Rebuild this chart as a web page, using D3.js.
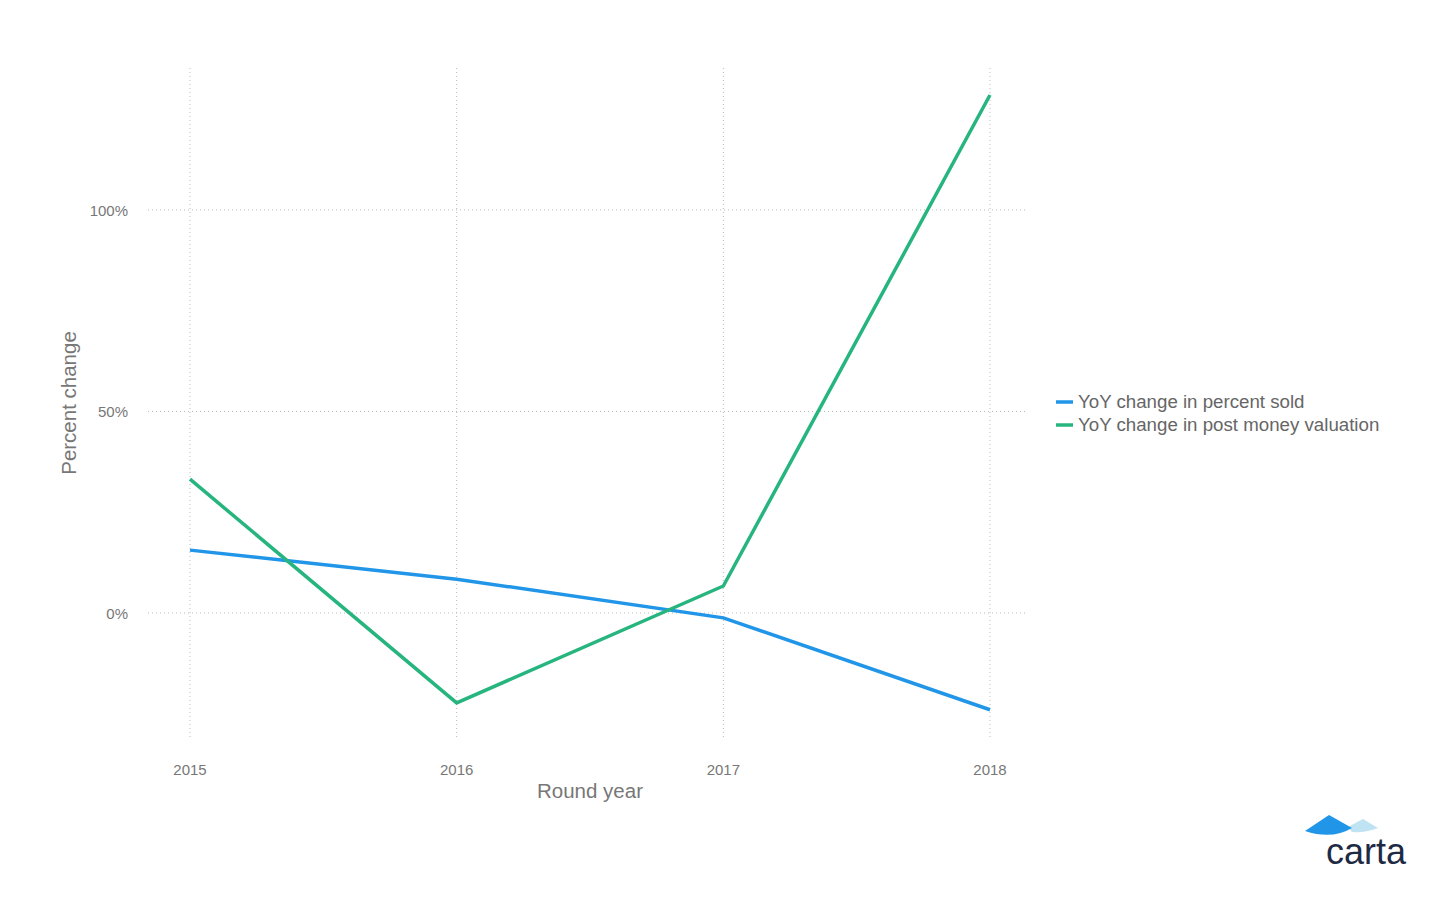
<!DOCTYPE html>
<html>
<head>
<meta charset="utf-8">
<script src="https://d3js.org/d3.v7.min.js"></script>
<style>body{margin:0;background:#fff;font-family:Arial,"Liberation Sans",sans-serif}</style>
</head>
<body>
<svg id="chart" width="1450" height="900"></svg>
<script>
var years = [2015, 2016, 2017, 2018];
var percentSold = [15.6, 8.4, -1.2, -24];
var postMoney = [33.2, -22.3, 6.7, 128.5];
var yTicks = [0, 50, 100];
var seriesNames = ["YoY change in percent sold", "YoY change in post money valuation"];
var colors = ["#2196e8", "#27b57f"];

var svg = d3.select("#chart");
var x = d3.scaleLinear().domain([2015, 2018]).range([190, 990]);
var y = d3.scaleLinear().domain([-31.5, 135.2]).range([740, 68]);

// grid
svg.selectAll(".vg").data(years).enter().append("line")
  .attr("x1", d => x(d)).attr("x2", d => x(d)).attr("y1", 68).attr("y2", 740)
  .attr("stroke", "#bbb").attr("stroke-dasharray", "1,3");
svg.selectAll(".hg").data(yTicks).enter().append("line")
  .attr("x1", 148).attr("x2", 1027).attr("y1", d => y(d)).attr("y2", d => y(d))
  .attr("stroke", "#bbb").attr("stroke-dasharray", "1,3");

// tick labels
svg.selectAll(".yt").data(yTicks).enter().append("text")
  .attr("x", 128).attr("y", d => y(d) + 6).attr("text-anchor", "end")
  .attr("font-size", 15).attr("fill", "#777").text(d => d + "%");
svg.selectAll(".xt").data(years).enter().append("text")
  .attr("x", d => x(d)).attr("y", 775).attr("text-anchor", "middle")
  .attr("font-size", 15).attr("fill", "#777").text(d => d);

svg.append("text").attr("x", 590).attr("y", 798).attr("text-anchor", "middle")
  .attr("font-size", 20.5).attr("fill", "#777").text("Round year");
svg.append("text").attr("transform", "translate(76,403) rotate(-90)").attr("text-anchor", "middle")
  .attr("font-size", 20.5).attr("fill", "#777").text("Percent change");

// lines
var line = d3.line().x((d, i) => x(years[i])).y(d => y(d));
[percentSold, postMoney].forEach(function(s, i) {
  svg.append("path").datum(s).attr("d", line).attr("fill", "none")
    .attr("stroke", colors[i]).attr("stroke-width", 3.5);
});

// legend
seriesNames.forEach(function(n, i) {
  var ly = 402 + i * 23;
  svg.append("line").attr("x1", 1056).attr("x2", 1073).attr("y1", ly).attr("y2", ly)
    .attr("stroke", colors[i]).attr("stroke-width", 3.5);
  svg.append("text").attr("x", 1078).attr("y", ly + 6).attr("font-size", 18.7)
    .attr("fill", "#666").text(n);
});

// logo
var logo = svg.append("g");
logo.append("path").attr("d", "M1348,827 L1363,819 L1378,828 Q1366,833 1352,832 Z").attr("fill", "#bfe3f2");
logo.append("path").attr("d", "M1305,831 L1329,815 L1352,828 Q1332,840 1305,831 Z").attr("fill", "#2196e8");
logo.append("text").attr("x", 1326).attr("y", 864).attr("font-size", 36).attr("fill", "#1e2a44").text("carta");
</script>
</body>
</html>
